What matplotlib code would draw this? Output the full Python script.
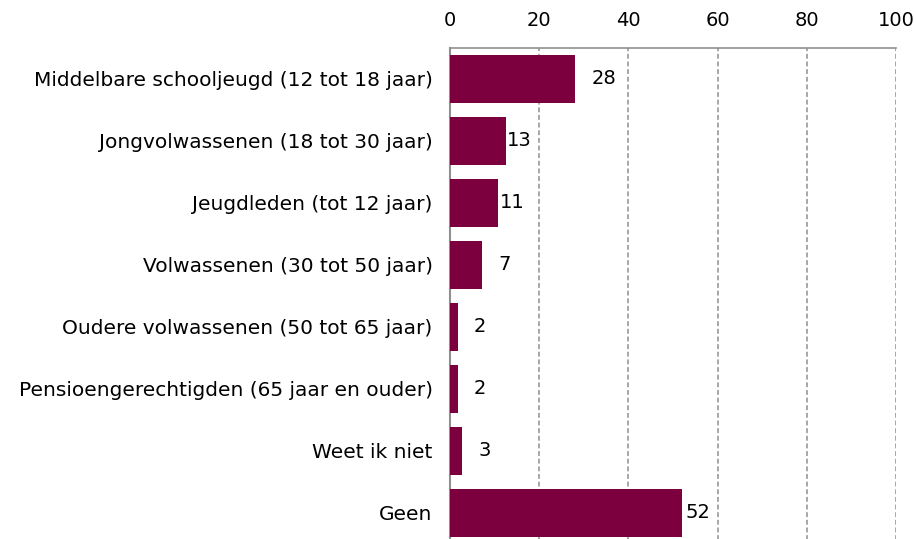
import matplotlib
matplotlib.use('Agg')
import matplotlib.pyplot as plt

categories = [
    'Middelbare schooljeugd (12 tot 18 jaar)',
    'Jongvolwassenen (18 tot 30 jaar)',
    'Jeugdleden (tot 12 jaar)',
    'Volwassenen (30 tot 50 jaar)',
    'Oudere volwassenen (50 tot 65 jaar)',
    'Pensioengerechtigden (65 jaar en ouder)',
    'Weet ik niet',
    'Geen',
]
values = [28.0, 12.6, 10.8, 7.2, 1.8, 1.8, 2.7, 52.0]
x_ticks = [0, 20, 40, 60, 80, 100]

# label offsets from bar end, in points (as placed in the original)
label_offsets = [21, 9.5, 10, 16.5, 16, 16, 16, 11.5]

bar_color = '#7b003d'
grid_color = '#909090'
fs = 14

fig = plt.figure(figsize=(9.16, 5.39), dpi=100)
ax = fig.add_axes([450 / 916, -5 / 539, 446 / 916, 496 / 539])

y = list(range(len(categories)))
ax.barh(y, values, height=0.76, color=bar_color, zorder=3)

for yi, v, off in zip(y, values, label_offsets):
    ax.annotate(f'{round(v)}', xy=(v, yi), xytext=(off, 0), textcoords='offset points',
                ha='center', va='center', fontsize=fs, color='black', zorder=4)

ax.set_xlim(0, 100)
ax.set_ylim(len(categories) - 0.5, -0.5)
ax.set_xticks(x_ticks)
ax.xaxis.tick_top()
ax.tick_params(axis='x', length=0, pad=13, labelsize=fs)
ax.tick_params(axis='y', length=0, pad=12.5, labelsize=14.5)
ax.set_yticks(y)
ax.set_yticklabels(categories)

ax.grid(axis='x', color=grid_color, linestyle=(0, (3.2, 1.8)), linewidth=1.1, zorder=1)
ax.set_axisbelow(True)

for side in ['right', 'bottom']:
    ax.spines[side].set_visible(False)
ax.spines['top'].set_color(grid_color)
ax.spines['left'].set_color(grid_color)
ax.spines['top'].set_linewidth(1.2)
ax.spines['left'].set_linewidth(1.5)

fig.savefig('out.png', dpi=100)
